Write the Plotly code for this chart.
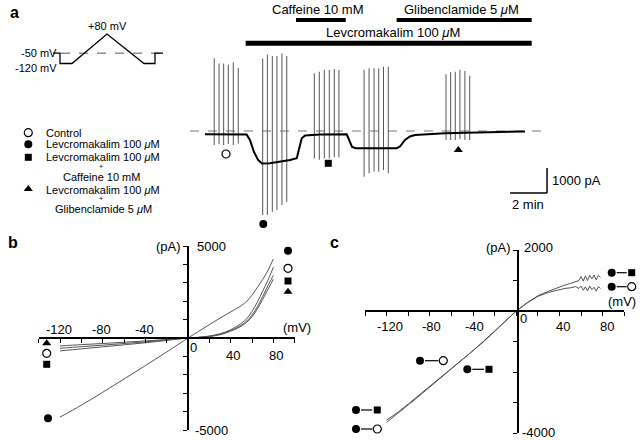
import plotly.graph_objects as go

W, H = 640, 440
FONT = "Liberation Sans, Arial, Helvetica, sans-serif"

# ---------------- Panel a: whole-cell current trace (time in min, current in pA)
base_t = [0.81, 3.06, 3.24, 3.46, 3.68, 3.89, 4.32, 4.86, 5.41, 5.77, 5.89, 6.04, 6.22, 7.03,
          8.47, 8.59, 8.76, 8.97, 11.17, 11.35, 11.62, 11.89, 12.16, 13.78, 15.68, 18.11]
base_i = [-130, -140, -360, -840, -1160, -1300, -1290, -1230, -1160, -1090, -760, -290, -180, -140,
          -130, -360, -640, -690, -690, -620, -360, -220, -160, -90, -50, -20]

spike_t = [1.31, 1.57, 1.82, 2.07, 2.34, 2.61,
           3.93, 4.18, 4.45, 4.70, 4.97, 5.23,
           6.72, 6.99, 7.26, 7.53, 7.80, 8.05,
           9.41, 9.68, 9.95, 10.20, 10.46, 10.72,
           13.84, 14.09, 14.34, 14.59, 14.86, 15.12]
spike_top = [2910, 2700, 2700, 2650, 2750, 2520,
             2900, 3050, 3000, 3000, 3100, 3000,
             2310, 2370, 2440, 2440, 2480, 2440,
             2440, 2510, 2510, 2510, 2570, 2570,
             2270, 2350, 2370, 2440, 2400, 2210]
spike_bot = [-560, -520, -560, -520, -560, -500,
             -3360, -3360, -3230, -3160, -2960, -2830,
             -1100, -1150, -1100, -1100, -1050, -1050,
             -1830, -1690, -1630, -1630, -1560, -1690,
             -360, -360, -360, -320, -360, -360]

drug_names = ["Levcromakalim 100 <i>μ</i>M", "Caffeine 10 mM", "Glibenclamide 5 <i>μ</i>M"]
drug_start = [3.01, 5.73, 11.17]
drug_end = [18.47, 8.42, 18.47]

scale_min = 2       # min
scale_pA = 1000     # pA

# voltage protocol
prot_t = [0, 7, 7, 19, 54, 91, 102, 102, 110]
prot_v = [-50, -50, -120, -120, 80, -120, -120, -50, -50]

# ---------------- Panel b: I-V relations
vb = [-120, -100, -80, -60, -40, -20, 0, 10, 20, 30, 40, 50, 55, 60, 65, 70, 75, 80]
ib_lev = [-4300, -3650, -2950, -2230, -1500, -760, 0, 360, 730, 1080, 1420, 1760, 2000, 2330, 2750, 3180, 3680, 4300]
ib_ctl = [-560, -470, -390, -300, -210, -110, 0, 40, 110, 230, 450, 800, 1050, 1450, 1950, 2550, 3150, 3850]
ib_caf = [-700, -590, -480, -370, -260, -130, 0, 30, 90, 200, 400, 700, 920, 1250, 1700, 2250, 2850, 3400]
ib_gli = [-430, -360, -300, -230, -160, -80, 0, 30, 80, 180, 370, 650, 860, 1150, 1580, 2100, 2650, 3200]

# ---------------- Panel c: difference currents
vc = [-120, -110, -100, -90, -80, -70, -60, -50, -40, -30, -20, -10, 0, 10, 20, 30, 40, 45, 50, 55,
      58, 60, 62, 64, 66, 68, 70, 72, 74, 76, 78]
ic_lev_caf = [-3580, -3330, -3050, -2760, -2470, -2180, -1890, -1600, -1300, -980, -650, -320, 0, 270, 500, 650,
              790, 850, 900, 960, 1000, 1130, 980, 1150, 1000, 1170, 1050, 1180, 1020, 1170, 1100]
ic_lev_ctl = [-3650, -3380, -3080, -2790, -2490, -2200, -1910, -1620, -1320, -1000, -670, -330, 0, 260, 480, 610,
              710, 740, 760, 800, 740, 820, 680, 790, 660, 820, 700, 780, 650, 800, 740]


def px(x):
    return x / W


def py(y):
    return 1 - y / H


fig = go.Figure()

# panel a trace
fig.add_trace(go.Scatter(x=[0, 19.2], y=[0, 0], mode="lines", xaxis="x", yaxis="y",
                         line=dict(color="#777", width=1, dash="dash"), hoverinfo="skip"))
sx, sy = [], []
for t, top, bot in zip(spike_t, spike_top, spike_bot):
    sx += [t, t, None]
    sy += [bot, top, None]
fig.add_trace(go.Scatter(x=sx, y=sy, mode="lines", xaxis="x", yaxis="y",
                         line=dict(color="#555", width=1)))
fig.add_trace(go.Scatter(x=base_t, y=base_i, mode="lines", xaxis="x", yaxis="y",
                         line=dict(color="black", width=2)))

# protocol
fig.add_trace(go.Scatter(x=[8, 110], y=[-50, -50], mode="lines", xaxis="x2", yaxis="y2",
                         line=dict(color="#555", width=1, dash="dash")))
fig.add_trace(go.Scatter(x=prot_t, y=prot_v, mode="lines", xaxis="x2", yaxis="y2",
                         line=dict(color="black", width=1.3)))

# panel b
for arr in (ib_lev, ib_ctl, ib_caf, ib_gli):
    fig.add_trace(go.Scatter(x=vb, y=arr, mode="lines", xaxis="x3", yaxis="y3",
                             line=dict(color="#555", width=1, shape="spline")))

# panel c
for arr in (ic_lev_caf, ic_lev_ctl):
    fig.add_trace(go.Scatter(x=vc, y=arr, mode="lines", xaxis="x4", yaxis="y4",
                             line=dict(color="#555", width=1)))

# symbol labels on a pixel overlay
def sym(x, y, kind, size=8):
    if kind == "o":
        m = dict(symbol="circle", size=size, color="white", line=dict(color="black", width=1.2))
    elif kind == "c":
        m = dict(symbol="circle", size=size, color="black", line=dict(width=0))
    elif kind == "s":
        m = dict(symbol="square", size=size - 1, color="black", line=dict(width=0))
    else:
        m = dict(symbol="triangle-up", size=size, color="black", line=dict(width=0))
    fig.add_trace(go.Scatter(x=[x], y=[y], mode="markers", xaxis="x5", yaxis="y5", marker=m))

def dash(x0, x1, y):
    fig.add_trace(go.Scatter(x=[x0, x1], y=[y, y], mode="lines", xaxis="x5", yaxis="y5",
                             line=dict(color="black", width=1.2)))

# panel a markers
sym(226, 154, "o"); sym(263.3, 224, "c"); sym(328.3, 163.3, "s"); sym(458.3, 150, "t")
# legend a
sym(28.3, 132.7, "o"); sym(28.3, 144.3, "c"); sym(28.3, 157.3, "s"); sym(28.3, 189, "t")
# b labels
sym(288, 250.7, "c"); sym(288, 268.3, "o"); sym(288, 281, "s"); sym(288, 291.7, "t")
sym(46.7, 343.3, "t"); sym(46.7, 353.3, "o"); sym(46.7, 364.3, "s"); sym(48, 418.3, "c")
# c labels
for (xa, xb, yy, k) in [(611.7, 631.7, 272.7, "s"), (611.7, 631.7, 286.7, "o"),
                        (420, 443.3, 360.7, "o"), (467.3, 489, 369.3, "s"),
                        (356, 377.3, 410, "s"), (356, 377.3, 429, "o")]:
    dash(xa + 5, xb - 5, yy)
    sym(xa, yy, "c")
    sym(xb, yy, k)

shapes = []
for s, e, yy, w in zip(drug_start, drug_end, [py(43.3), py(20), py(20)], [5, 4, 4]):
    shapes.append(dict(type="line", xref="x", yref="paper", x0=s, x1=e, y0=yy, y1=yy,
                       line=dict(color="black", width=w)))
# scale bars
shapes.append(dict(type="line", xref="x", yref="y", x0=17.3, x1=17.3 + scale_min, y0=-2480, y1=-2480,
                   line=dict(color="black", width=1.5)))
shapes.append(dict(type="line", xref="x", yref="y", x0=17.3 + scale_min, x1=17.3 + scale_min,
                   y0=-2480, y1=-2480 + scale_pA, line=dict(color="black", width=1.5)))

ann = []
def txt(x, y, s, size=13, xanchor="center", bold=False, **kw):
    d = dict(x=px(x), y=py(y), xref="paper", yref="paper", text=("<b>%s</b>" % s) if bold else s,
             showarrow=False, xanchor=xanchor, yanchor="middle", borderpad=0,
             font=dict(family=FONT, size=size, color="black"))
    d.update(kw)
    ann.append(d)

txt(9, 13, "a", 16, "left", True)
txt(7, 242, "b", 16, "left", True)
txt(329, 242, "c", 16, "left", True)

# drug labels
txt(318, 9, drug_names[1])
txt(461.7, 9, drug_names[2])
txt(393, 33, drug_names[0])
txt(528, 205, "%d min" % scale_min)
txt(551, 180, "%d pA" % scale_pA, xanchor="left")

# protocol labels
txt(107, 26, "+80 mV", 11)
txt(58, 53, "-50 mV", 11, "right")
txt(58, 67.5, "-120 mV", 11, "right")

# legend
txt(45, 133, "Control", 11, "left")
txt(45, 144.5, "Levcromakalim 100 <i>μ</i>M", 11, "left")
txt(45, 157, "Levcromakalim 100 <i>μ</i>M", 11, "left")
txt(101, 166.5, "+", 7)
txt(101, 176.5, "Caffeine 10 mM", 11)
txt(45, 190, "Levcromakalim 100 <i>μ</i>M", 11, "left")
txt(101, 198.5, "+", 7)
txt(103, 208.5, "Glibenclamide 5 <i>μ</i>M", 11)

# panel b axis texts
txt(182, 246, "(pA)", 13, "right")
txt(196, 246, "5000", 13, "left")
txt(194, 430, "-5000", 13, "left")
txt(297, 327, "(mV)", 13)
for v, x, y in [(-120, 59, 329), (-80, 101, 329), (-40, 144, 329), (0, 193, 347), (40, 233, 355), (80, 276, 355)]:
    txt(x, y, str(v), 13)

# panel c axis texts
txt(512, 247, "(pA)", 13, "right")
txt(523, 248, "2000", 13, "left")
txt(521, 432, "-4000", 13, "left")
txt(622, 301, "(mV)", 13)
for v, x, y in [(-120, 390, 326), (-80, 431, 326), (-40, 474, 326), (0, 523, 318), (40, 563, 326), (80, 607, 326)]:
    txt(x, y, str(v), 13)

hidden = dict(visible=False, showgrid=False, zeroline=False)
ax_common = dict(showgrid=False, zeroline=False, showline=True, linecolor="black", linewidth=1.5,
                 ticks="outside", ticklen=4, tickwidth=1.3, tickcolor="black", showticklabels=False)

fig.update_layout(
    width=W, height=H, margin=dict(l=0, r=0, t=0, b=0),
    paper_bgcolor="white", plot_bgcolor="rgba(0,0,0,0)", showlegend=False,
    xaxis=dict(domain=[px(190), px(550)], range=[0, 19.46], anchor="y", **hidden),
    yaxis=dict(domain=[py(230), 1], range=[-3960, 5240], anchor="x", **hidden),
    xaxis2=dict(domain=[px(53), px(163)], range=[0, 110], anchor="y2", **hidden),
    yaxis2=dict(domain=[py(70), py(30)], range=[-164, 107], anchor="x2", **hidden),
    xaxis3=dict(domain=[px(38.7), px(294.7)], range=[-140, 100], anchor="free", position=py(338),
                tick0=-140, dtick=20, **ax_common),
    yaxis3=dict(domain=[py(430), py(246)], range=[-5000, 5000], anchor="free", position=px(188),
                tick0=-5000, dtick=1000, **ax_common),
    xaxis4=dict(domain=[px(365), px(624.3)], range=[-140, 100], anchor="free", position=py(311),
                tick0=-140, dtick=20, **ax_common),
    yaxis4=dict(domain=[py(433), py(250)], range=[-4000, 2000], anchor="free", position=px(518),
                tick0=-4000, dtick=1000, **ax_common),
    xaxis5=dict(domain=[0, 1], range=[0, W], anchor="y5", **hidden),
    yaxis5=dict(domain=[0, 1], range=[H, 0], anchor="x5", **hidden),
    shapes=shapes, annotations=ann,
)

fig.write_html("out.html", config={"displayModeBar": False},
               post_script="document.body.style.margin='0px';document.body.style.overflow='hidden';")
